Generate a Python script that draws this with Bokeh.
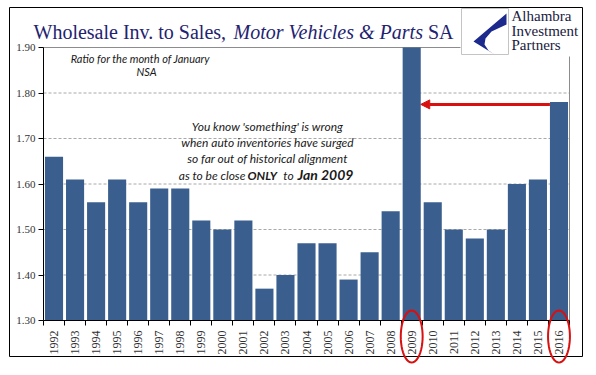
import math
from bokeh.plotting import figure
from bokeh.models import (Range1d, FixedTicker, Label, Arrow, NormalHead,
                          BoxAnnotation, PolyAnnotation, NumeralTickFormatter)
from bokeh.embed import file_html
from bokeh.resources import INLINE

# ---------------- data ----------------
years = ["1992", "1993", "1994", "1995", "1996", "1997", "1998", "1999", "2000",
         "2001", "2002", "2003", "2004", "2005", "2006", "2007", "2008", "2009",
         "2010", "2011", "2012", "2013", "2014", "2015", "2016"]
ratios = [1.66, 1.61, 1.56, 1.61, 1.56, 1.59, 1.59, 1.52, 1.50, 1.52, 1.37, 1.40,
          1.47, 1.47, 1.39, 1.45, 1.54, 1.95, 1.56, 1.50, 1.48, 1.50, 1.60, 1.61,
          1.78]
y_ticks = [1.30, 1.40, 1.50, 1.60, 1.70, 1.80, 1.90]
circled_years = ["2009", "2016"]
arrow_from_year = "2016"
arrow_to_year = "2009"
arrow_level = 1.775

# ---------------- layout constants (pixels) ----------------
W, H = 596, 375
PL, PR, PT, PB = 43, 569, 47, 320     # plot area inside the canvas
BAR = "#3A5F8E"
NAVY = "#1F2370"
RED = "#D81010"

n = len(years)
idx = list(range(n))
ymin, ymax = y_ticks[0], y_ticks[-1]
xu = (PR - PL) / n
yu = (PB - PT) / (ymax - ymin)
x_range = Range1d(-0.5 - PL / xu, n - 0.5 + (W - PR) / xu)
y_range = Range1d(ymin - (H - PB) / yu, ymax + PT / yu)

p = figure(width=W, height=H, output_backend="svg", toolbar_location=None,
           x_range=x_range, y_range=y_range, min_border=0)
p.title.visible = False
p.background_fill_color = "white"
p.border_fill_color = "white"
p.outline_line_color = None
p.xgrid.visible = False
p.ygrid.visible = False

# dashed horizontal grid lines and the grey plot-area outline (top, right)
inner = y_ticks[1:-1]
p.segment(x0=[-0.5] * len(inner), x1=[n - 0.5] * len(inner), y0=inner, y1=inner,
          line_color="#A8A8A8", line_dash="3 2", line_width=1)
p.segment(x0=[-0.5, n - 0.5], x1=[n - 0.5, n - 0.5], y0=[ymax, ymin], y1=[ymax, ymax],
          line_color="#8C8C8C", line_width=1)

tops = [min(v, ymax) for v in ratios]
p.vbar(x=idx, top=tops, bottom=ymin, width=0.86, fill_color=BAR, line_color=None)

# y axis
ya = p.yaxis[0]
ya.fixed_location = -0.5
ya.bounds = (ymin, ymax)
ya.ticker = FixedTicker(ticks=y_ticks)
ya.formatter = NumeralTickFormatter(format="0.00")
ya.major_label_text_font = "Liberation Serif"
ya.major_label_text_font_size = "11px"
ya.major_label_text_color = "#333333"
ya.major_tick_out = 5
ya.major_tick_in = 0
ya.minor_tick_line_color = None
ya.axis_line_color = "black"
ya.major_tick_line_color = "black"
ya.major_label_standoff = 3

# x axis: labels at bar centres, ticks at bar boundaries
xa = p.xaxis[0]
xa.fixed_location = ymin
xa.bounds = (-0.5, n - 0.5)
xa.ticker = FixedTicker(ticks=idx, minor_ticks=[i - 0.5 for i in range(n + 1)])
xa.major_label_overrides = {i: y for i, y in zip(idx, years)}
xa.major_label_orientation = math.pi / 2
xa.major_label_text_font = "Liberation Serif"
xa.major_label_text_font_size = "12px"
xa.major_label_text_color = "#333333"
xa.major_tick_out = 0
xa.major_tick_in = 0
xa.minor_tick_out = 5
xa.minor_tick_in = 0
xa.minor_tick_line_color = "black"
xa.axis_line_color = "black"
xa.major_label_standoff = 5

# arrow
i_from = years.index(arrow_from_year)
i_to = years.index(arrow_to_year)
p.add_layout(Arrow(end=NormalHead(size=9, fill_color=RED, line_color=RED),
                   x_start=i_from - 0.43, y_start=arrow_level,
                   x_end=i_to + 0.43, y_end=arrow_level,
                   line_color=RED, line_width=3))

def lab(x, y, text, size, font="Lato", style="italic", color="#1A1A1A",
        align="center", baseline="middle"):
    p.add_layout(Label(x=x, y=y, x_units="canvas", y_units="canvas", text=text,
                       text_font=font, text_font_style=style,
                       text_font_size=size, text_color=color,
                       text_align=align, text_baseline=baseline))

lab(140, 58, "Ratio for the month of January", "11px")
lab(146, 71, "NSA", "11px")
lab(267, 126, "You know 'something' is wrong", "12px")
lab(267, 142, "when auto inventories have surged", "12px")
lab(267, 158, "so far out of historical alignment", "12px")
lab(245, 175, "as to be close", "12px", align="right")
lab(247, 175, "ONLY", "12px", style="bold italic", align="left")
lab(288, 175, "to", "12px", align="center")
lab(297, 174, "Jan 2009", "14px", style="bold italic", align="left")

# title
lab(33, 31, "Wholesale Inv. to Sales,", "20px", font="Liberation Serif", style="normal",
    color=NAVY, align="left", baseline="alphabetic")
lab(233, 31, "Motor Vehicles & Parts", "20px", font="Liberation Serif", style="italic",
    color=NAVY, align="left", baseline="alphabetic")
lab(453, 31, "SA", "20px", font="Liberation Serif", style="normal",
    color=NAVY, align="right", baseline="alphabetic")

def box(l, r, t, b, fill, line):
    p.add_layout(BoxAnnotation(left=l, right=r, top=t, bottom=b,
                               left_units="canvas", right_units="canvas",
                               top_units="canvas", bottom_units="canvas",
                               fill_color=fill, fill_alpha=1,
                               line_color=line, line_alpha=1, line_width=1))

# outer border
box(9, 582, 7, 356, None, "black")

# logo
box(460, 581, 8, 56, "white", None)
box(461, 508, 8, 54, "white", "#C4C4C4")
p.add_layout(PolyAnnotation(xs=[506, 473, 494, 488, 484, 485, 491, 506],
                            ys=[13, 41, 54, 50, 44, 38, 31, 24],
                            xs_units="canvas", ys_units="canvas",
                            fill_color="#1B2A8C", fill_alpha=1, line_color=None))
lab(511, 15, "Alhambra", "15px", font="Liberation Serif", style="normal", color="#1A1A40", align="left")
lab(511, 30, "Investment", "15px", font="Liberation Serif", style="normal", color="#1A1A40", align="left")
lab(511, 44, "Partners", "15px", font="Liberation Serif", style="normal", color="#1A1A40", align="left")

# red ellipses round the highlighted year labels
for yr in circled_years:
    c = years.index(yr)
    m = 48
    xs = [c + 0.52 * math.cos(2 * math.pi * k / m) for k in range(m)]
    ys = [336 + 26 * math.sin(2 * math.pi * k / m) for k in range(m)]
    p.add_layout(PolyAnnotation(xs=xs, ys=ys, xs_units="data", ys_units="canvas",
                                fill_color=None, fill_alpha=0, line_color=RED,
                                line_alpha=1, line_width=2))

open("out.html", "w").write(file_html(p, INLINE))
